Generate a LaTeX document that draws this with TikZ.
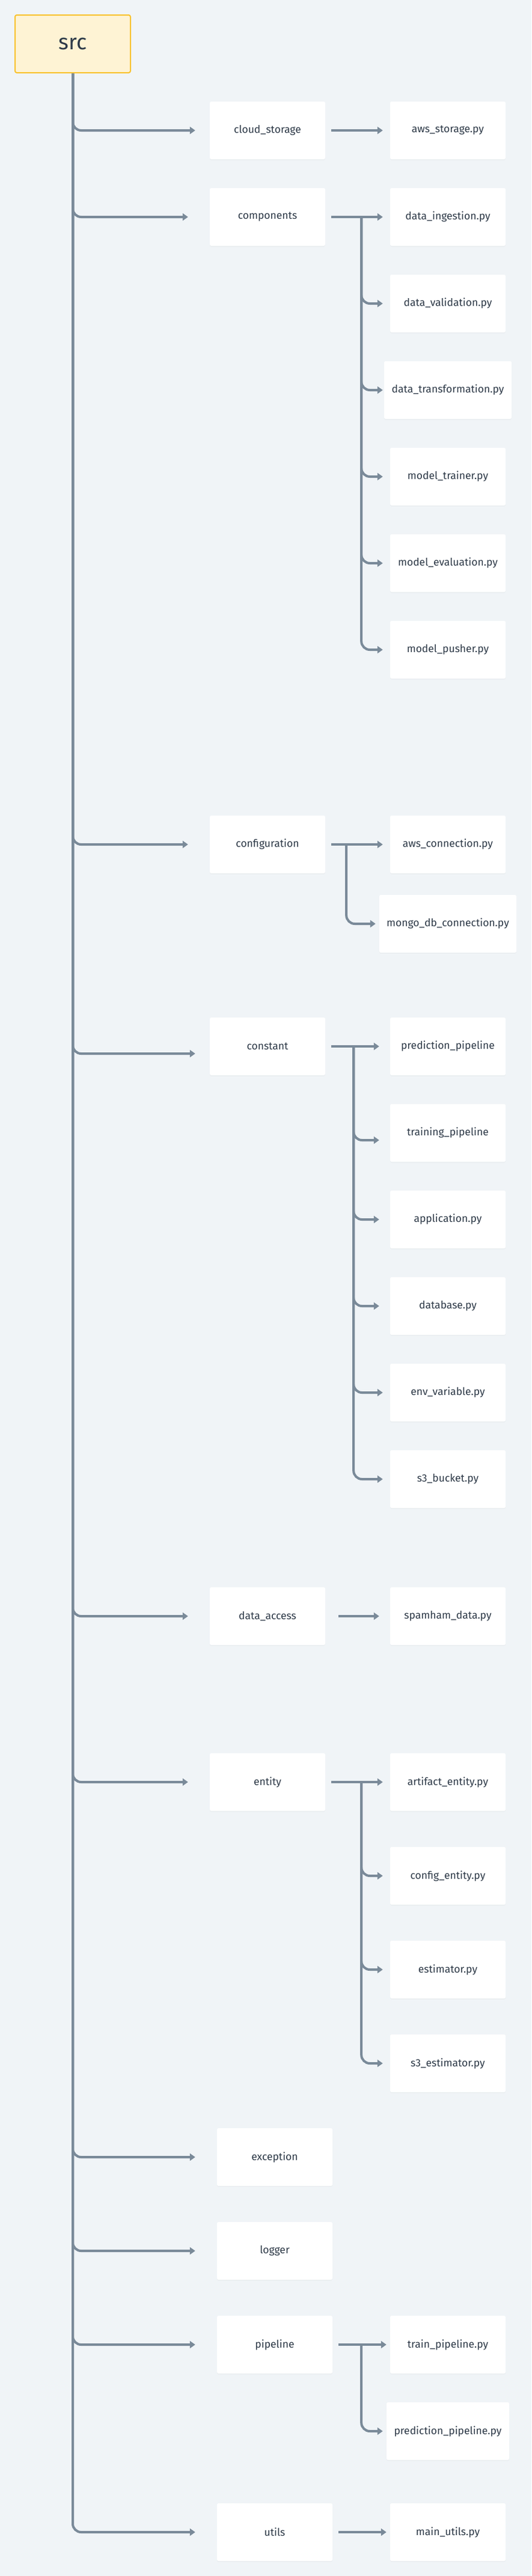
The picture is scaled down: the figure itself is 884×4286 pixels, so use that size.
\documentclass[tikz,border=0pt]{standalone}
\usepackage{fontspec}
\setmainfont{Fira Sans}
\usetikzlibrary{arrows.meta,shadows}
\definecolor{bgc}{HTML}{F0F4F7}
\definecolor{lnc}{HTML}{7A8A99}
\definecolor{txc}{HTML}{2E3A48}
\definecolor{srcfill}{HTML}{FEF3D4}
\definecolor{srcline}{HTML}{F9C22E}
\tikzset{
  filebox/.style={fill=white, rounded corners=2.5pt, minimum height=96pt, minimum width=192pt,
    inner sep=0pt, text=txc, font=\fontsize{17.5}{20}\selectfont,
    drop shadow={opacity=0.06, shadow xshift=0pt, shadow yshift=-1.5pt}},
  rootbox/.style={fill=srcfill, draw=srcline, line width=2pt, rounded corners=3pt,
    minimum height=96pt, minimum width=192pt, inner sep=0pt, text=txc,
    font=\fontsize{36}{40}\selectfont},
  conn/.style={draw=lnc, line width=4pt, rounded corners=14pt,
    -{Triangle[length=9pt,width=12pt]}},
}
\begin{document}
\begin{tikzpicture}[x=1pt,y=-1pt]
\fill[bgc] (0,0) rectangle (884,4286);
\useasboundingbox (0,0) rectangle (884,4286);

% root
\node[rootbox] (src) at (121,73) {src};

% level 1
\node[filebox] (cloud) at (445,217) {cloud\_storage};
\node[filebox] (comp)  at (445,361) {components};
\node[filebox] (conf)  at (445,1405) {configuration};
\node[filebox] (cons)  at (445,1741) {constant};
\node[filebox] (dacc)  at (445,2689) {data\_access};
\node[filebox] (ent)   at (445,2965) {entity};
\node[filebox] (exc)   at (457,3589) {exception};
\node[filebox] (logg)  at (457,3745) {logger};
\node[filebox] (pipe)  at (457,3901) {pipeline};
\node[filebox] (util)  at (457,4213) {utils};

% level 2
\node[filebox] (aws)   at (745,217) {aws\_storage.py};
\node[filebox] (di)    at (745,361) {data\_ingestion.py};
\node[filebox] (dv)    at (745,505) {data\_validation.py};
\node[filebox, minimum width=212pt] (dt) at (745,649) {data\_transformation.py};
\node[filebox] (mt)    at (745,793) {model\_trainer.py};
\node[filebox] (me)    at (745,937) {model\_evaluation.py};
\node[filebox] (mp)    at (745,1081) {model\_pusher.py};
\node[filebox] (awsc)  at (745,1405) {aws\_connection.py};
\node[filebox, minimum width=228pt] (mongo) at (745,1537) {mongo\_db\_connection.py};
\node[filebox] (pp)    at (745,1741) {prediction\_pipeline};
\node[filebox] (tp)    at (745,1885) {training\_pipeline};
\node[filebox] (app)   at (745,2029) {application.py};
\node[filebox] (db)    at (745,2173) {database.py};
\node[filebox] (env)   at (745,2317) {env\_variable.py};
\node[filebox] (s3b)   at (745,2461) {s3\_bucket.py};
\node[filebox] (spam)  at (745,2689) {spamham\_data.py};
\node[filebox] (art)   at (745,2965) {artifact\_entity.py};
\node[filebox] (cfe)   at (745,3121) {config\_entity.py};
\node[filebox] (est)   at (745,3277) {estimator.py};
\node[filebox] (s3e)   at (745,3433) {s3\_estimator.py};
\node[filebox] (trp)   at (745,3901) {train\_pipeline.py};
\node[filebox, minimum width=204pt] (prp) at (745,4045) {prediction\_pipeline.py};
\node[filebox] (mu)    at (745,4213) {main\_utils.py};

% trunk connectors
\draw[conn, shorten >=24pt] (src.south) |- (cloud.west);
\draw[conn, shorten >=36pt] (src.south) |- (comp.west);
\draw[conn, shorten >=36pt] (src.south) |- (conf.west);
\draw[conn, shorten >=24pt] (src.south) |- ([yshift=-12pt]cons.west);
\draw[conn, shorten >=36pt] (src.south) |- (dacc.west);
\draw[conn, shorten >=36pt] (src.south) |- (ent.west);
\draw[conn, shorten >=36pt] (src.south) |- (exc.west);
\draw[conn, shorten >=36pt] (src.south) |- (logg.west);
\draw[conn, shorten >=36pt] (src.south) |- (pipe.west);
\draw[conn, shorten >=36pt] (src.south) |- (util.west);

% cloud_storage
\draw[conn, shorten <=10pt, shorten >=12pt] (cloud.east) -- (aws.west);

% components
\draw[conn, shorten <=10pt, shorten >=12pt] (comp.east) -- (di.west);
\draw[conn, shorten >=12pt] ([xshift=60pt]comp.east) |- (dv.west);
\draw[conn, shorten >=2pt]  ([xshift=60pt]comp.east) |- (dt.west);
\draw[conn, shorten >=12pt] ([xshift=60pt]comp.east) |- (mt.west);
\draw[conn, shorten >=12pt] ([xshift=60pt]comp.east) |- (me.west);
\draw[conn, shorten >=12pt] ([xshift=60pt]comp.east) |- (mp.west);

% configuration
\draw[conn, shorten <=10pt, shorten >=12pt] (conf.east) -- (awsc.west);
\draw[conn, shorten >=6pt] ([xshift=35pt]conf.east) |- (mongo.west);

% constant
\draw[conn, shorten <=10pt, shorten >=18pt] (cons.east) -- (pp.west);
\draw[conn, shorten >=18pt] ([xshift=47pt]cons.east) |- ([yshift=-12pt]tp.west);
\draw[conn, shorten >=18pt] ([xshift=47pt]cons.east) |- (app.west);
\draw[conn, shorten >=18pt] ([xshift=47pt]cons.east) |- (db.west);
\draw[conn, shorten >=12pt] ([xshift=47pt]cons.east) |- (env.west);
\draw[conn, shorten >=12pt] ([xshift=47pt]cons.east) |- (s3b.west);

% data_access
\draw[conn, shorten <=22pt, shorten >=18pt] (dacc.east) -- (spam.west);

% entity
\draw[conn, shorten <=10pt, shorten >=12pt] (ent.east) -- (art.west);
\draw[conn, shorten >=12pt] ([xshift=60pt]ent.east) |- (cfe.west);
\draw[conn, shorten >=12pt] ([xshift=60pt]ent.east) |- (est.west);
\draw[conn, shorten >=12pt] ([xshift=60pt]ent.east) |- (s3e.west);

% pipeline
\draw[conn, shorten <=10pt, shorten >=6pt] (pipe.east) -- (trp.west);
\draw[conn, shorten >=6pt] ([xshift=48pt]pipe.east) |- (prp.west);

% utils
\draw[conn, shorten <=10pt, shorten >=6pt] (util.east) -- (mu.west);
\end{tikzpicture}
\end{document}
